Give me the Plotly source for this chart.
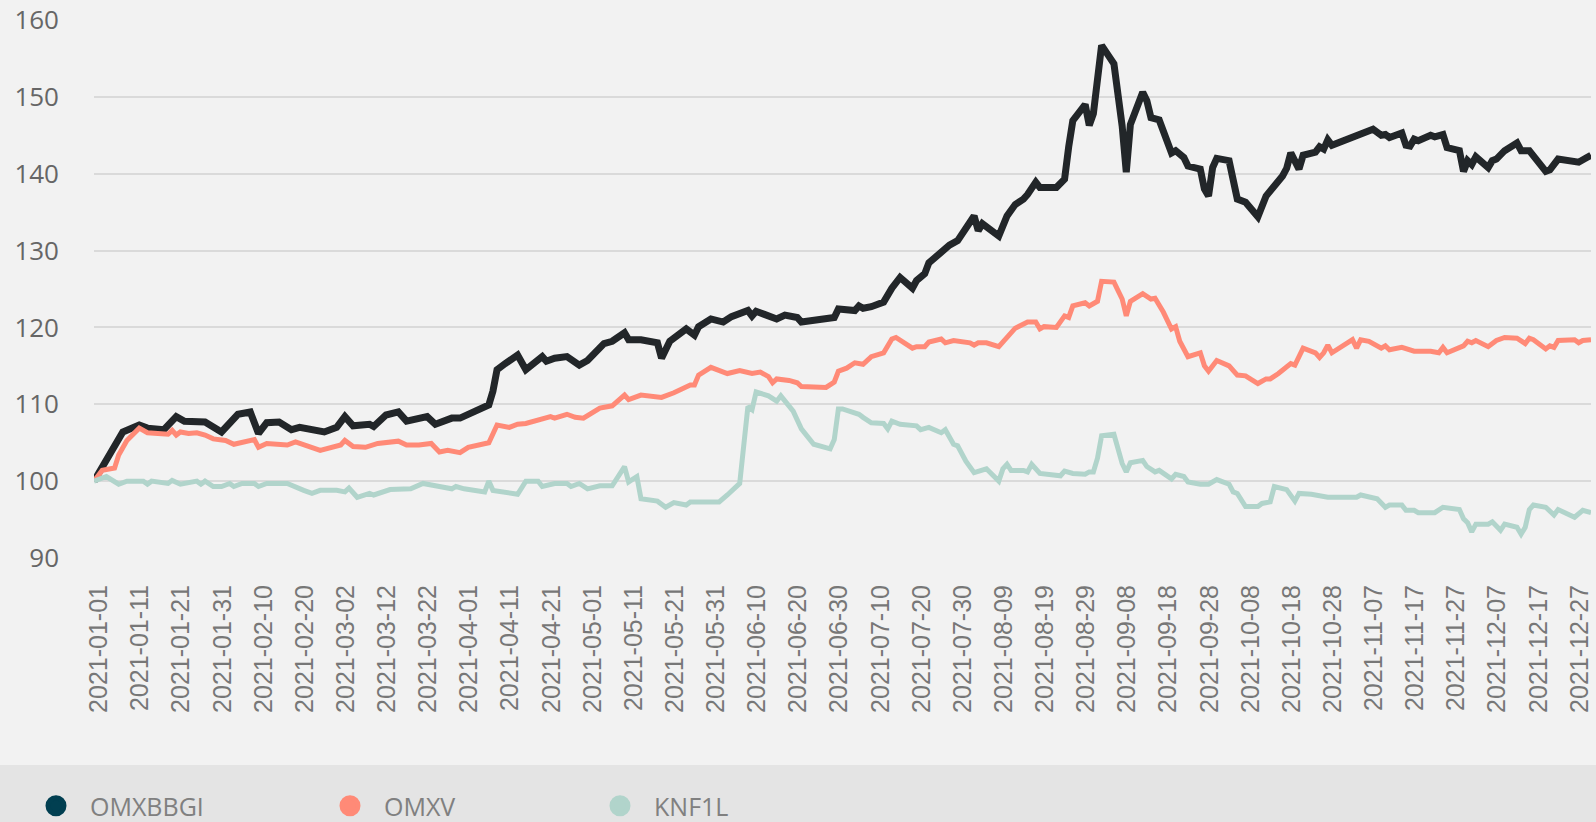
import numpy as np
import pandas as pd
import plotly.graph_objects as go

START = "2021-01-01"

# Tick labels (every 10 days)
TICK_LABELS = [
    "2021-01-01", "2021-01-11", "2021-01-21", "2021-01-31", "2021-02-10", "2021-02-20",
    "2021-03-02", "2021-03-12", "2021-03-22", "2021-04-01", "2021-04-11", "2021-04-21",
    "2021-05-01", "2021-05-11", "2021-05-21", "2021-05-31", "2021-06-10", "2021-06-20",
    "2021-06-30", "2021-07-10", "2021-07-20", "2021-07-30", "2021-08-09", "2021-08-19",
    "2021-08-29", "2021-09-08", "2021-09-18", "2021-09-28", "2021-10-08", "2021-10-18",
    "2021-10-28", "2021-11-07", "2021-11-17", "2021-11-27", "2021-12-07", "2021-12-17",
    "2021-12-27",
]
Y_TICKS = [90, 100, 110, 120, 130, 140, 150, 160]

SERIES_NAMES = ["OMXBBGI", "OMXV", "KNF1L"]

# OMXBBGI: day offset from 2021-01-01 and index value
omxbbgi_day = [0, 2, 5, 7, 11, 13, 17, 20, 22, 27, 31, 33, 35, 38, 40, 42, 45, 48, 50, 56,
               59, 61, 63, 67, 68, 71, 74, 76, 79, 81, 83, 87, 89, 92, 96, 97, 98, 100, 103,
               105, 107, 109, 110, 112, 115, 118, 120, 124, 126, 129, 130, 133, 137, 138,
               140, 144, 146, 147, 150, 153, 155, 159, 160, 161, 163, 166, 168, 171, 172,
               178, 180, 181, 185, 186, 187, 189, 192, 194, 196, 199, 200, 202, 203, 208,
               210, 214, 215, 216, 220, 222, 224, 226, 227, 229, 230, 234, 236, 237, 238,
               241, 242, 243, 245, 247, 248, 250, 251, 252, 253, 255, 256, 257, 259, 262,
               263, 265, 266, 269, 270, 271, 272, 273, 276, 278, 280, 283, 285, 286, 289,
               290, 291, 293, 294, 297, 298, 299, 300, 301, 305, 308, 311, 313, 314, 315,
               318, 319, 320, 321, 322, 325, 326, 328, 329, 332, 333, 334, 335, 336, 339,
               340, 341, 343, 346, 347, 349, 353, 354, 356, 360, 361, 363, 364]
omxbbgi_val = [100.0, 101.9, 104.3, 106.4, 107.3, 106.9, 106.7, 108.4, 107.8, 107.7, 106.4,
               107.5, 108.7, 109.0, 106.2, 107.6, 107.7, 106.7, 107.0, 106.4, 107.0, 108.4,
               107.2, 107.4, 107.1, 108.6, 109.0, 107.8, 108.2, 108.4, 107.4, 108.2, 108.2,
               109.0, 109.9, 111.7, 114.5, 115.3, 116.4, 114.5, 115.3, 116.2, 115.6, 116.0,
               116.2, 115.1, 115.7, 117.9, 118.2, 119.3, 118.4, 118.4, 118.0, 116.0, 118.2,
               119.8, 119.0, 120.1, 121.1, 120.7, 121.4, 122.2, 121.5, 122.1, 121.7, 121.1,
               121.6, 121.3, 120.7, 121.0, 121.3, 122.4, 122.2, 122.8, 122.5, 122.7, 123.3,
               125.1, 126.5, 125.1, 126.1, 127.0, 128.4, 130.7, 131.3, 134.5, 132.6, 133.5,
               131.9, 134.5, 136.0, 136.7, 137.3, 138.9, 138.2, 138.2, 139.3, 143.5, 146.9,
               149.0, 146.3, 147.8, 156.7, 155.1, 154.3, 146.2, 140.2, 146.4, 148.0, 150.6,
               149.5, 147.3, 147.0, 142.7, 143.0, 142.1, 141.0, 140.6, 138.0, 137.1, 140.8,
               142.0, 141.7, 136.7, 136.3, 134.4, 137.1, 137.7, 139.7, 140.7, 142.7, 140.6,
               142.4, 142.8, 143.5, 143.2, 144.4, 143.7, 144.5, 145.3, 145.8, 145.0, 145.1,
               144.7, 145.3, 143.7, 143.6, 144.5, 144.3, 145.0, 144.8, 145.1, 143.4, 143.0,
               140.3, 141.7, 141.2, 142.2, 140.8, 141.7, 141.9, 143.0, 144.0, 143.0, 143.0,
               140.3, 140.5, 141.9, 141.4, 141.5, 142.1, 142.4]

# OMXV
omxv_day = [0, 2, 5, 6, 8, 11, 13, 18, 19, 20, 21, 23, 25, 27, 29, 32, 34, 39, 40, 42, 47,
            49, 55, 59, 60, 61, 63, 66, 69, 74, 76, 79, 82, 84, 86, 89, 91, 96, 98, 101, 103,
            105, 109, 111, 112, 115, 117, 119, 123, 126, 129, 130, 133, 136, 138, 141, 143,
            145, 146, 147, 150, 154, 157, 160, 162, 164, 165, 166, 169, 171, 172, 178, 180,
            181, 183, 185, 187, 189, 192, 194, 195, 199, 200, 202, 203, 206, 207, 209, 213,
            214, 215, 217, 220, 222, 224, 227, 229, 230, 231, 234, 236, 237, 238, 241, 242,
            244, 245, 248, 250, 251, 252, 255, 257, 258, 260, 262, 263, 264, 266, 269, 270,
            271, 273, 276, 278, 280, 283, 285, 286, 288, 291, 292, 294, 297, 298, 299, 300,
            301, 306, 307, 308, 310, 313, 314, 315, 318, 321, 325, 327, 328, 329, 333, 334,
            335, 336, 339, 341, 343, 346, 348, 349, 350, 353, 354, 355, 356, 360, 361, 362,
            364]
omxv_val = [100.0, 101.4, 101.7, 103.4, 105.3, 106.9, 106.3, 106.1, 106.6, 106.0, 106.4,
            106.2, 106.3, 106.0, 105.5, 105.3, 104.8, 105.4, 104.4, 104.9, 104.7, 105.1,
            104.0, 104.6, 104.7, 105.3, 104.5, 104.4, 104.9, 105.2, 104.7, 104.7, 104.9,
            103.8, 104.0, 103.7, 104.4, 105.0, 107.3, 107.0, 107.4, 107.5, 108.2, 108.4,
            108.2, 108.7, 108.3, 108.2, 109.5, 109.8, 111.2, 110.6, 111.2, 111.0, 110.9,
            111.5, 112.0, 112.5, 112.5, 113.8, 114.8, 114.0, 114.4, 114.0, 114.2, 113.6,
            112.8, 113.3, 113.1, 112.8, 112.3, 112.2, 112.9, 114.3, 114.7, 115.4, 115.2,
            116.2, 116.7, 118.5, 118.7, 117.3, 117.5, 117.5, 118.1, 118.5, 118.0, 118.3,
            118.0, 117.7, 118.0, 118.0, 117.5, 118.6, 119.9, 120.7, 120.7, 119.8, 120.1,
            120.0, 121.5, 121.3, 122.8, 123.2, 122.8, 123.4, 126.0, 125.9, 123.7, 121.5,
            123.4, 124.4, 123.7, 123.8, 122.0, 119.8, 120.1, 118.2, 116.2, 116.7, 115.0,
            114.3, 115.7, 115.0, 113.8, 113.7, 112.7, 113.3, 113.3, 114.0, 115.3, 115.1,
            117.3, 116.7, 116.1, 116.7, 117.7, 116.7, 118.4, 117.3, 118.4, 118.2, 117.3,
            117.6, 117.1, 117.4, 116.9, 116.9, 116.7, 117.4, 116.7, 117.6, 118.2, 118.0,
            118.3, 117.5, 118.3, 118.7, 118.6, 117.9, 118.6, 118.4, 117.2, 117.6, 117.4,
            118.3, 118.4, 118.0, 118.3, 118.4]

# KNF1L
knf1l_day = [0, 3, 6, 8, 12, 13, 14, 18, 19, 21, 25, 26, 27, 29, 31, 33, 34, 36, 39, 40,
             42, 47, 51, 53, 55, 59, 61, 62, 64, 67, 68, 70, 72, 77, 80, 84, 87, 88, 90, 95,
             96, 97, 101, 103, 105, 108, 109, 112, 115, 116, 118, 120, 123, 126, 129, 130,
             132, 133, 137, 139, 141, 144, 145, 152, 154, 157, 159, 160, 161, 164, 166, 167,
             170, 172, 175, 179, 180, 181, 182, 185, 186, 187, 189, 192, 193, 194, 196, 200,
             201, 203, 206, 207, 209, 210, 212, 214, 217, 220, 221, 222, 223, 226, 227, 228,
             230, 235, 236, 238, 241, 242, 243, 244, 245, 248, 250, 251, 252, 255, 256, 258,
             259, 262, 263, 265, 266, 269, 271, 273, 276, 277, 278, 280, 283, 284, 286, 287,
             290, 292, 293, 296, 299, 300, 307, 308, 312, 314, 315, 318, 319, 321, 322, 326,
             328, 332, 333, 334, 335, 336, 339, 340, 342, 343, 346, 347, 348, 349, 350, 353,
             355, 356, 360, 362, 364]
knf1l_val = [100.0, 100.6, 99.6, 100.0, 100.0, 99.6, 100.0, 99.7, 100.1, 99.6, 100.0, 99.6,
             100.0, 99.3, 99.3, 99.7, 99.3, 99.7, 99.7, 99.3, 99.7, 99.7, 98.8, 98.4, 98.8,
             98.8, 98.6, 99.1, 97.9, 98.4, 98.2, 98.6, 98.9, 99.0, 99.7, 99.3, 99.0, 99.3,
             99.0, 98.6, 100.0, 98.8, 98.5, 98.3, 100.0, 100.0, 99.3, 99.7, 99.7, 99.3, 99.7,
             99.0, 99.4, 99.4, 101.9, 99.9, 100.6, 97.7, 97.4, 96.6, 97.2, 96.9, 97.3, 97.3,
             98.2, 99.7, 109.7, 109.3, 111.6, 111.1, 110.4, 111.1, 109.1, 106.8, 104.8,
             104.2, 105.4, 109.4, 109.4, 108.9, 108.7, 108.3, 107.6, 107.5, 106.8, 107.8,
             107.4, 107.2, 106.7, 107.0, 106.3, 106.7, 104.8, 104.6, 102.6, 101.1, 101.6,
             100.0, 101.6, 102.2, 101.4, 101.4, 101.2, 102.2, 101.0, 100.7, 101.3, 101.0,
             100.9, 101.2, 101.2, 103.0, 105.9, 106.1, 102.3, 101.2, 102.4, 102.7, 101.9,
             101.2, 101.4, 100.3, 100.9, 100.6, 99.9, 99.6, 99.6, 100.2, 99.6, 98.6, 98.4,
             96.7, 96.7, 97.1, 97.3, 99.3, 98.9, 97.4, 98.4, 98.3, 98.0, 97.9, 97.9, 98.2,
             97.7, 96.6, 96.9, 96.9, 96.2, 96.2, 95.9, 95.9, 96.6, 96.3, 95.1, 94.6, 93.4,
             94.4, 94.4, 94.7, 93.6, 94.4, 94.0, 93.1, 94.0, 96.3, 96.9, 96.6, 95.6, 96.3,
             95.3, 96.2, 95.9]

LINE_COLORS = ["#222629", "#ff8a77", "#b1d4cb"]
LEGEND_COLORS = ["#013f51", "#ff8a77", "#b1d4cb"]
LINE_WIDTHS = [7, 5, 5]


def to_dates(days):
    return pd.Timestamp(START) + pd.to_timedelta(np.array(days), unit="D")


series = [(omxbbgi_day, omxbbgi_val), (omxv_day, omxv_val), (knf1l_day, knf1l_val)]

fig = go.Figure()
legend_ids = ["legend", "legend2", "legend3"]
for i, (name, (d, v)) in enumerate(zip(SERIES_NAMES, series)):
    fig.add_trace(go.Scatter(
        x=to_dates(d), y=v, mode="lines", name=name, legendgroup=name,
        showlegend=False, hoverinfo="skip",
        line=dict(color=LINE_COLORS[i], width=LINE_WIDTHS[i]),
    ))
for i, name in enumerate(SERIES_NAMES):
    fig.add_trace(go.Scatter(
        x=[None], y=[None], mode="markers", name=name, legendgroup=name,
        legend=legend_ids[i], showlegend=True,
        marker=dict(color=LEGEND_COLORS[i], size=16, symbol="circle",
                    line=dict(color=LEGEND_COLORS[i], width=5)),
    ))

PLOT_L, PLOT_R, PLOT_T, PLOT_B = 94, 5, 20, 264
W, H = 1596, 822
pw = W - PLOT_L - PLOT_R
ph = H - PLOT_T - PLOT_B

legend_font = dict(family="Open Sans", size=25, color="#808080")
legend_px = [22, 316, 586]
legend_common = dict(orientation="h", yanchor="middle", xanchor="left",
                     xref="container", yref="container",
                     bgcolor="rgba(0,0,0,0)", font=legend_font, itemwidth=58,
                     y=(H - 806) / H)

layout_legends = {}
for lid, px in zip(legend_ids, legend_px):
    layout_legends[lid] = dict(legend_common, x=px / W)

fig.update_layout(
    width=W, height=H,
    margin=dict(l=PLOT_L, r=PLOT_R, t=PLOT_T, b=PLOT_B, autoexpand=False),
    paper_bgcolor="#f2f2f2", plot_bgcolor="#f2f2f2",
    showlegend=True,
    **layout_legends,
    xaxis=dict(
        type="date", range=["2021-01-01", "2021-12-31"],
        tickmode="array", tickvals=TICK_LABELS, ticktext=TICK_LABELS,
        tickangle=-90, showgrid=False, zeroline=False, showline=False,
        ticks="", ticklabelstandoff=21, ticklabelshift=5, automargin=False,
        tickfont=dict(family="Liberation Sans", size=25, color="#777777"),
    ),
    yaxis=dict(
        range=[90, 160], tickmode="array", tickvals=Y_TICKS,
        showgrid=True, gridcolor="#dadada", gridwidth=2, zeroline=False,
        showline=False, ticks="", ticklabelstandoff=34, automargin=False,
        tickfont=dict(family="Open Sans", size=26, color="#666666"),
    ),
    shapes=[dict(type="rect", xref="paper", yref="paper",
                 x0=-0.2, x1=1.2, y0=-0.7, y1=(ph - (765 - PLOT_T)) / ph,
                 fillcolor="#e4e4e4", line=dict(width=0), layer="below")],
)

fig.write_html(
    "out.html",
    config={"displayModeBar": False},
    post_script="document.body.style.margin='0px';"
                "document.body.style.overflow='hidden';",
)
